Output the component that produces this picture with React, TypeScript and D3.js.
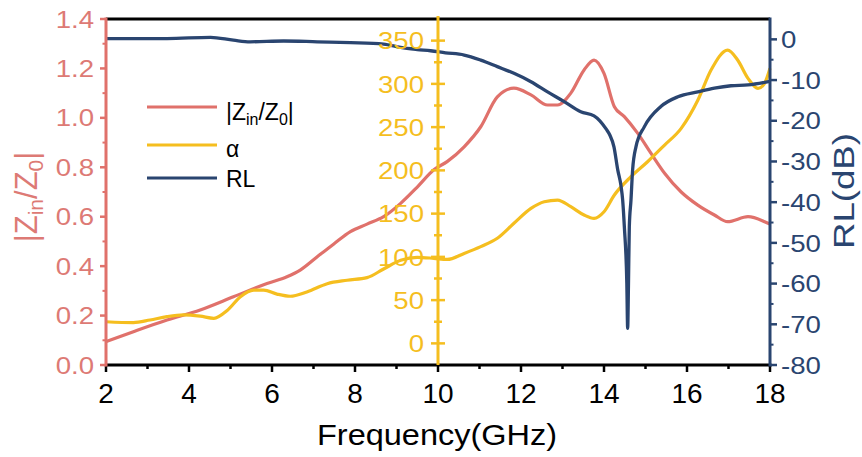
import React from "react";
import * as d3 from "d3";

// ---------- data ----------
const zFreq = [2.0, 2.66, 3.47, 4.27, 5.07, 5.88, 6.36, 6.68, 7.09, 7.49, 7.89, 8.29, 8.69, 9.1, 9.5, 9.9, 10.22, 10.63, 11.03, 11.43, 11.83, 12.24, 12.64, 12.88, 13.2, 13.52, 13.76, 14.0, 14.25, 14.49, 14.81, 15.13, 15.46, 15.86, 16.26, 16.66, 16.98, 17.47, 17.87, 18.0];
const zVals = [0.095, 0.135, 0.182, 0.223, 0.276, 0.33, 0.357, 0.384, 0.438, 0.49, 0.54, 0.57, 0.6, 0.654, 0.72, 0.79, 0.823, 0.883, 0.964, 1.085, 1.12, 1.093, 1.052, 1.052, 1.1, 1.194, 1.234, 1.18, 1.045, 1.005, 0.938, 0.857, 0.776, 0.7, 0.647, 0.607, 0.58, 0.6, 0.58, 0.57];

const alphaFreq = [2.0, 2.66, 3.06, 3.47, 3.87, 4.27, 4.6, 4.92, 5.24, 5.56, 5.8, 6.12, 6.44, 6.84, 7.33, 7.81, 8.29, 8.69, 9.1, 9.5, 9.9, 10.22, 10.63, 11.03, 11.43, 11.83, 12.24, 12.56, 12.88, 13.2, 13.52, 13.76, 14.0, 14.25, 14.65, 15.05, 15.46, 15.86, 16.26, 16.58, 16.98, 17.22, 17.47, 17.71, 17.87, 18.0];
const alphaVals = [25, 24, 27, 31, 33, 31.5, 29, 38, 54, 61.5, 61.5, 57, 54.5, 59.5, 69, 73, 76, 86, 96, 99.5, 98.3, 97, 104, 111.8, 121.5, 138.8, 156, 163.8, 165.7, 158, 148.4, 144.6, 152.2, 171.5, 192.7, 210, 229.3, 248.6, 281, 316, 339, 327.6, 306.4, 294.8, 300.7, 318];

const rlFreq = [2.0, 3.47, 4.52, 5.07, 5.47, 6.28, 7.09, 7.89, 8.69, 9.1, 9.5, 9.82, 10.18, 10.63, 11.03, 11.43, 11.83, 12.24, 12.64, 13.04, 13.44, 13.76, 13.9, 14.05, 14.14, 14.24, 14.33, 14.41, 14.45, 14.49, 14.55, 14.57, 14.59, 14.61, 14.65, 14.69, 14.77, 14.97, 15.37, 15.78, 16.26, 16.66, 17.06, 17.47, 18.0];
const rlVals = [0.2, 0.2, 0.5, -0.2, -0.6, -0.4, -0.6, -0.8, -1.15, -2.0, -2.5, -2.8, -3.3, -3.85, -5.1, -6.7, -8.35, -10.4, -12.9, -15.3, -17.8, -18.8, -20, -22, -23.5, -26.4, -32, -36, -39.5, -46, -60, -71, -60, -46, -39.5, -32, -26.4, -21.5, -16.5, -14.1, -12.9, -12.0, -11.4, -11.2, -10.3];

const xTicks = [2, 4, 6, 8, 10, 12, 14, 16, 18];
const zTicks = [0, 0.2, 0.4, 0.6, 0.8, 1.0, 1.2, 1.4];
const alphaTicks = [0, 50, 100, 150, 200, 250, 300, 350];
const rlTicks = [0, -10, -20, -30, -40, -50, -60, -70, -80];

const RED = "#E0716B";
const RED_TXT = "#DD7A75";
const YEL = "#F5BE1F";
const NAVY = "#2A4570";
const FONT = "'Liberation Sans', Arial, Helvetica, sans-serif";

const W = 862, H = 457;
const L = 106, R = 770, T = 19, B = 365;

export default function App() {
  const x = d3.scaleLinear().domain([2, 18]).range([L, R]);
  const yZ = d3.scaleLinear().domain([0, 1.4]).range([B, T]);
  const yA = d3.scaleLinear().domain([-25, 375]).range([B, T]);
  const yR = d3.scaleLinear().domain([-80, 5]).range([B, T]);

  const mk = (fs: number[], vs: number[], ys: d3.ScaleLinear<number, number>) =>
    d3.line<number>().x((_, i) => x(fs[i])).y((v) => ys(v)).curve(d3.curveMonotoneX)(vs) || "";

  const zPath = mk(zFreq, zVals, yZ);
  const aPath = mk(alphaFreq, alphaVals, yA);
  const rPath = mk(rlFreq, rlVals, yR);

  const xAx = x(10);
  const xMinor = d3.range(3, 18, 2);
  const zMinor = d3.range(0.1, 1.4, 0.2);
  const aMinor = d3.range(-25, 376, 50).filter((v) => v > -25 && v < 375);
  const rMinor = d3.range(-75, 5, 10);

  const sx = 1.15;

  return (
    <svg width={W} height={H} style={{ position: "absolute", left: 0, top: 0, background: "#fff" }} fontFamily={FONT}>
      <rect x={0} y={0} width={W} height={H} fill="#fff" />
      {/* data */}
      <path d={zPath} fill="none" stroke={RED} strokeWidth={3.2} />
      <path d={aPath} fill="none" stroke={YEL} strokeWidth={3.2} />
      <path d={rPath} fill="none" stroke={NAVY} strokeWidth={3.3} />

      {/* frame */}
      <line x1={L} x2={R} y1={T} y2={T} stroke="#000" strokeWidth={3} />
      <line x1={L} x2={R + 1.5} y1={B} y2={B} stroke="#000" strokeWidth={3} />

      {/* bottom axis */}
      {xTicks.map((t) => (
        <g key={"xt" + t}>
          <line x1={x(t)} x2={x(t)} y1={B} y2={B + 7} stroke="#000" strokeWidth={2.5} />
          <text x={x(t)} y={403} textAnchor="middle" fontSize={28} fill="#000">{t}</text>
        </g>
      ))}
      {xMinor.map((t) => (
        <line key={"xm" + t} x1={x(t)} x2={x(t)} y1={B} y2={B + 4} stroke="#000" strokeWidth={2.5} />
      ))}
      <text x={437} y={445} textAnchor="middle" fontSize={29} fill="#000" textLength={240} lengthAdjust="spacingAndGlyphs">Frequency(GHz)</text>

      {/* left axis */}
      <line x1={L} x2={L} y1={T - 1.5} y2={B + 1.5} stroke={RED} strokeWidth={3} />
      {zTicks.map((t) => (
        <g key={"zt" + t}>
          <line x1={L - 6} x2={L} y1={yZ(t)} y2={yZ(t)} stroke={RED} strokeWidth={2.5} />
          <text transform={`translate(94,${yZ(t)}) scale(${sx},1)`} dy="0.36em" textAnchor="end" fontSize={24} fill={RED_TXT}>{t.toFixed(1)}</text>
        </g>
      ))}
      {zMinor.map((t) => (
        <line key={"zm" + t} x1={L - 3.5} x2={L} y1={yZ(t)} y2={yZ(t)} stroke={RED} strokeWidth={2} />
      ))}
      <text transform={`translate(37,197) rotate(-90)`} textAnchor="middle" fontSize={31} fill={RED_TXT}>
        |Z<tspan fontSize={21} dy={6}>in</tspan><tspan dy={-6}>/Z</tspan><tspan fontSize={21} dy={6}>0</tspan><tspan dy={-6}>|</tspan>
      </text>

      {/* alpha axis */}
      <line x1={xAx} x2={xAx} y1={T - 3} y2={B} stroke={YEL} strokeWidth={3} />
      {alphaTicks.map((t) => (
        <g key={"at" + t}>
          <line x1={xAx - 7} x2={xAx + 7} y1={yA(t)} y2={yA(t)} stroke={YEL} strokeWidth={2.5} />
          <text transform={`translate(424,${yA(t)}) scale(${sx},1)`} dy="0.36em" textAnchor="end" fontSize={24} fill={YEL}>{t}</text>
        </g>
      ))}
      {aMinor.map((t) => (
        <line key={"am" + t} x1={xAx - 4} x2={xAx + 4} y1={yA(t)} y2={yA(t)} stroke={YEL} strokeWidth={2.5} />
      ))}

      {/* right axis */}
      <line x1={R} x2={R} y1={T - 1.5} y2={B + 1.5} stroke={NAVY} strokeWidth={3} />
      {rlTicks.map((t) => (
        <g key={"rt" + t}>
          <line x1={R} x2={R + 7} y1={yR(t)} y2={yR(t)} stroke={NAVY} strokeWidth={2.5} />
          <text transform={`translate(781,${yR(t)}) scale(${sx},1)`} dy="0.36em" textAnchor="start" fontSize={24} fill={NAVY}>{t}</text>
        </g>
      ))}
      {rMinor.map((t) => (
        <line key={"rm" + t} x1={R} x2={R + 3.5} y1={yR(t)} y2={yR(t)} stroke={NAVY} strokeWidth={2} />
      ))}
      <text transform={`translate(854,191) rotate(-90)`} textAnchor="middle" fontSize={30} fill={NAVY} textLength={116} lengthAdjust="spacingAndGlyphs">RL(dB)</text>

      {/* legend */}
      <line x1={147} x2={217} y1={107} y2={107} stroke={RED} strokeWidth={3} />
      <text x={226} y={119.5} fontSize={23} fill="#000">
        |Z<tspan fontSize={16} dy={5}>in</tspan><tspan dy={-5}>/Z</tspan><tspan fontSize={16} dy={5}>0</tspan><tspan dy={-5}>|</tspan>
      </text>
      <line x1={147} x2={217} y1={145} y2={145} stroke={YEL} strokeWidth={3} />
      <text x={226} y={156.5} fontSize={23} fill="#000">α</text>
      <line x1={147} x2={217} y1={178} y2={178} stroke={NAVY} strokeWidth={3} />
      <text x={226} y={186.7} fontSize={23} fill="#000">RL</text>
    </svg>
  );
}
